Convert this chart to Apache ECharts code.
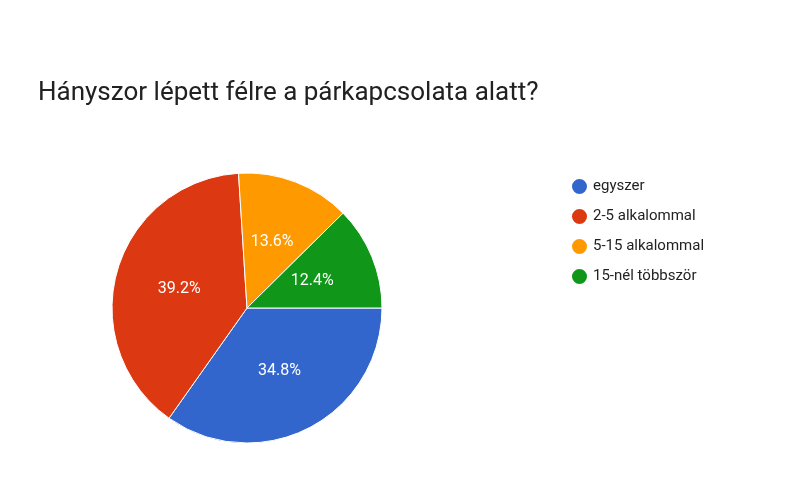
<!DOCTYPE html>
<html>
<head>
<meta charset="utf-8">
<script src="https://cdn.jsdelivr.net/npm/echarts@6/dist/echarts.min.js"></script>
<style>html,body{margin:0;padding:0;background:#fff}#main{width:800px;height:500px}</style>
</head>
<body>
<div id="main"></div>
<script>
var categories = ['egyszer', '2-5 alkalommal', '5-15 alkalommal', '15-nél többször'];
var values = [34.8, 39.2, 13.6, 12.4];
var colors = ['#3366cc', '#dc3912', '#ff9900', '#109618'];

var myChart = echarts.init(document.getElementById('main'));
var data = [];
for (var i = 0; i < categories.length; i++) {
    data.push({ name: categories[i], value: values[i] });
}
myChart.setOption({
    backgroundColor: '#fff',
    color: colors,
    animation: false,
    title: {
        text: 'Hányszor lépett félre a párkapcsolata alatt?',
        left: 33,
        top: 75,
        textStyle: { fontFamily: 'Roboto', fontSize: 26, fontWeight: 'normal', color: '#212121' }
    },
    legend: {
        orient: 'vertical',
        left: 565,
        top: 172,
        icon: 'circle',
        itemWidth: 17,
        itemHeight: 17,
        itemGap: 11,
        textStyle: { fontFamily: 'Roboto', fontSize: 15, color: '#222' },
        data: categories
    },
    series: [{
        type: 'pie',
        center: [247, 308],
        radius: [0, 135],
        startAngle: 0,
        clockwise: true,
        data: data,
        itemStyle: { borderColor: '#fff', borderWidth: 1 },
        label: {
            position: 'inside',
            formatter: function (p) { return p.value.toFixed(1) + '%'; },
            color: '#fff',
            fontFamily: 'Roboto',
            fontSize: 16
        },
        labelLine: { show: false }
    }]
});
</script>
</body>
</html>
